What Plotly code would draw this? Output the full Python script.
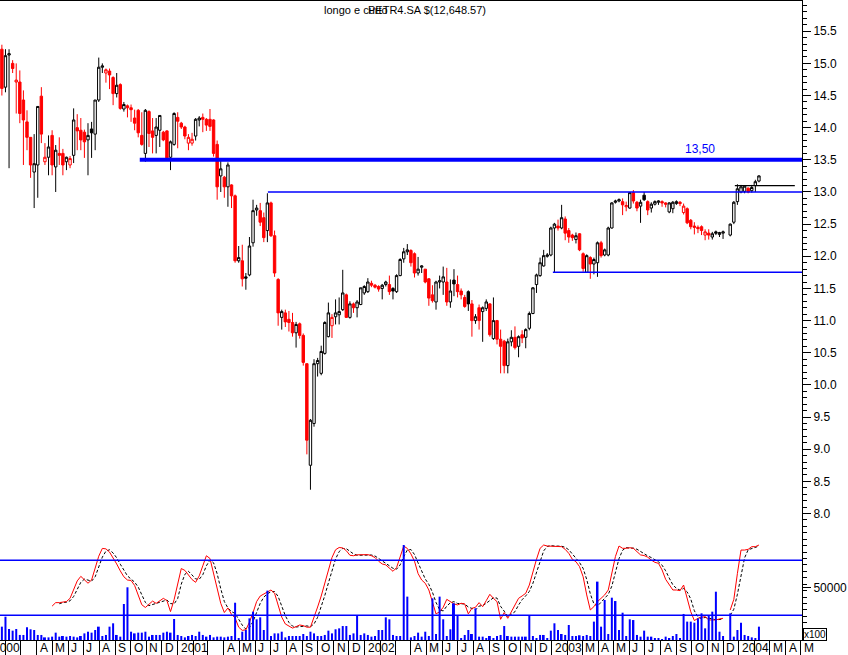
import plotly.graph_objects as go
import pandas as pd

# ---------------- data (weekly, Monday dates; slot 202 = no trading data) ----------------
dates = pd.date_range("2000-01-24", periods=212, freq="7D")

opens = [
    15.22, 14.63, 15.13, 15.00, 14.71, 14.71, 14.43, 14.09, 13.85, 13.31,
    13.42, 14.49, 13.47, 13.54, 13.88, 13.39, 13.60, 13.60, 13.47, 13.42,
    13.57, 14.00, 13.96, 13.93, 13.81, 13.98, 13.90, 14.43, 14.94, 14.85,
    14.88, 14.78, 14.53, 14.67, 14.29, 14.34, 14.31, 14.15, 14.27, 13.88,
    13.60, 14.25, 13.95, 13.88, 13.96, 13.93, 13.95, 13.54, 13.74, 14.16,
    14.07, 14.01, 13.76, 13.76, 13.87, 14.12, 14.16, 14.13, 14.13, 14.12,
    13.74, 13.25, 13.23, 13.08, 13.11, 12.94,
    11.93, 11.93, 11.68, 11.71, 12.21, 12.72, 12.71, 12.60, 12.40, 12.83,
    12.32, 11.64, 11.05, 11.12, 11.02, 10.97, 10.81, 10.95, 10.77, 10.33,
    8.75, 9.40, 10.33, 10.18, 10.49, 10.75, 10.92, 11.06, 11.09, 11.17,
    11.40, 11.05, 11.26, 11.20, 11.25, 11.43, 11.45, 11.58, 11.55, 11.53,
    11.50, 11.56, 11.56, 11.50, 11.45, 11.70, 11.96, 12.07, 12.09, 12.04,
    11.74, 11.83, 11.80, 11.65, 11.40, 11.29, 11.60, 11.60, 11.60, 11.29,
    11.63, 11.56, 11.46, 11.36, 11.45, 11.26, 11.00, 11.20, 11.14, 11.19,
    11.26, 10.72, 11.00, 10.71, 10.68, 10.30, 10.67, 10.74, 10.60, 10.78,
    10.74, 10.88, 11.11, 11.56, 11.70, 11.85, 12.00, 12.02, 12.44, 12.47,
    12.44, 12.58, 12.40, 12.33, 12.26, 12.35, 12.04, 11.75, 11.98, 11.88,
    11.90, 12.21, 12.02, 12.02, 12.44, 12.84, 12.86, 12.85, 12.77, 12.75,
    12.99, 12.84, 12.78, 12.95, 12.85, 12.75, 12.81, 12.84, 12.85, 12.83,
    12.69, 12.74, 12.82, 12.84, 12.68, 12.74, 12.56, 12.47, 12.45, 12.46,
    12.33, 12.36, 12.30, 12.38, 12.34, 12.36,
    None,
    12.33, 12.53, 12.85, 13.00, 13.01, 13.06, 13.02, 13.10, 13.17,
]
highs = [
    15.29, 15.22, 15.22, 15.05, 15.00, 14.89, 14.58, 14.27, 13.85, 13.90,
    14.33, 14.63, 13.76, 13.88, 13.96, 13.73, 13.85, 13.67, 13.55, 13.56,
    14.30, 14.21, 14.15, 13.97, 14.07, 14.09, 14.43, 15.09, 15.00, 14.92,
    14.92, 14.80, 14.85, 14.69, 14.40, 14.36, 14.36, 14.28, 14.29, 14.24,
    14.29, 14.27, 14.15, 14.15, 14.19, 13.95, 13.96, 13.80, 14.24, 14.24,
    14.09, 14.03, 13.90, 13.92, 14.15, 14.18, 14.22, 14.15, 14.29, 14.13,
    13.80, 13.50, 13.25, 13.46, 13.12, 12.96,
    12.16, 12.18, 11.74, 12.30, 12.88, 12.80, 12.83, 12.68, 12.98, 12.85,
    12.40, 11.66, 11.17, 11.17, 11.15, 11.12, 10.98, 10.97, 10.80, 10.33,
    9.47, 10.40, 10.42, 10.61, 10.99, 11.28, 11.10, 11.33, 11.36, 11.79,
    11.42, 11.30, 11.28, 11.32, 11.51, 11.55, 11.66, 11.62, 11.57, 11.55,
    11.57, 11.62, 11.70, 11.52, 11.72, 11.97, 12.13, 12.19, 12.11, 12.06,
    11.99, 11.86, 11.80, 11.66, 11.55, 11.62, 11.70, 11.84, 11.82, 11.64,
    11.80, 11.70, 11.50, 11.40, 11.47, 11.32, 11.10, 11.25, 11.22, 11.33,
    11.27, 11.36, 11.01, 10.86, 10.70, 10.72, 10.85, 10.91, 10.77, 10.85,
    10.88, 11.14, 11.52, 11.73, 11.98, 12.10, 12.05, 12.46, 12.52, 12.57,
    12.80, 12.62, 12.44, 12.35, 12.37, 12.36, 12.06, 12.03, 12.00, 11.98,
    12.23, 12.24, 12.12, 12.46, 12.84, 12.88, 12.90, 12.90, 12.85, 13.00,
    13.03, 12.86, 12.88, 13.00, 12.87, 12.84, 12.87, 12.87, 12.87, 12.84,
    12.84, 12.86, 12.87, 12.86, 12.82, 12.76, 12.58, 12.53, 12.48, 12.48,
    12.42, 12.42, 12.38, 12.40, 12.38, 12.40,
    None,
    12.51, 12.86, 13.12, 13.11, 13.10, 13.07, 13.11, 13.19, 13.26,
]
lows = [
    14.50, 14.55, 13.37, 14.85, 14.22, 14.07, 13.42, 13.65, 13.22, 12.75,
    12.91, 13.76, 13.42, 13.26, 13.26, 13.00, 13.42, 13.26, 13.34, 13.37,
    13.45, 13.65, 13.65, 13.53, 13.26, 13.53, 13.65, 14.40, 14.85, 14.70,
    14.60, 14.35, 14.47, 14.28, 14.25, 14.16, 14.09, 13.96, 13.85, 13.72,
    13.47, 13.70, 13.60, 13.60, 13.70, 13.79, 13.53, 13.34, 13.72, 13.68,
    13.98, 13.82, 13.65, 13.72, 13.80, 14.02, 13.93, 13.95, 13.95, 13.55,
    12.88, 13.00, 12.91, 12.77, 12.75, 11.90,
    11.90, 11.53, 11.48, 11.69, 12.15, 12.63, 12.47, 12.22, 12.22, 12.30,
    11.68, 10.92, 10.86, 10.90, 10.83, 10.75, 10.58, 10.72, 10.30, 8.92,
    8.37, 9.35, 10.13, 10.15, 10.47, 10.74, 10.73, 10.94, 10.94, 11.15,
    11.04, 11.03, 11.12, 11.05, 11.24, 11.40, 11.43, 11.52, 11.50, 11.45,
    11.33, 11.53, 11.40, 11.33, 11.43, 11.69, 11.90, 12.02, 11.84, 11.67,
    11.70, 11.74, 11.58, 11.23, 11.28, 11.17, 11.50, 11.40, 11.23, 11.20,
    11.38, 11.36, 11.33, 11.20, 11.15, 10.75, 10.95, 10.86, 10.67, 11.15,
    10.75, 10.70, 10.63, 10.18, 10.18, 10.18, 10.60, 10.55, 10.43, 10.65,
    10.57, 10.85, 11.10, 11.43, 11.68, 11.84, 11.98, 12.00, 11.75, 12.40,
    12.42, 12.25, 12.21, 12.24, 12.20, 12.08, 11.76, 11.74, 11.65, 11.72,
    11.68, 11.98, 12.00, 12.00, 12.43, 12.82, 12.84, 12.64, 12.70, 12.74,
    12.82, 12.70, 12.52, 12.86, 12.64, 12.68, 12.79, 12.80, 12.77, 12.76,
    12.67, 12.67, 12.80, 12.78, 12.65, 12.50, 12.42, 12.34, 12.36, 12.33,
    12.25, 12.26, 12.26, 12.33, 12.30, 12.27,
    None,
    12.31, 12.50, 12.80, 12.98, 12.98, 12.98, 12.99, 13.00, 13.15,
]
closes = [
    14.61, 15.12, 15.15, 14.92, 14.74, 14.22, 14.12, 13.85, 13.42, 13.44,
    14.33, 13.90, 13.54, 13.70, 13.42, 13.65, 13.57, 13.42, 13.54, 13.52,
    14.12, 13.95, 13.81, 13.78, 13.88, 13.92, 14.43, 14.94, 14.96, 14.90,
    14.82, 14.53, 14.66, 14.30, 14.36, 14.31, 14.28, 14.07, 13.92, 13.74,
    14.27, 13.91, 13.85, 14.01, 14.19, 13.81, 13.53, 13.78, 14.22, 14.10,
    14.01, 13.87, 13.85, 13.82, 14.13, 14.15, 14.13, 14.04, 14.02, 13.60,
    13.08, 13.36, 13.08, 13.42, 12.94, 11.93,
    11.98, 11.65, 11.66, 12.16, 12.71, 12.75, 12.53, 12.29, 12.83, 12.32,
    11.74, 11.12, 11.14, 10.98, 10.97, 10.81, 10.94, 10.77, 10.35, 9.14,
    9.45, 10.33, 10.38, 10.52, 10.97, 11.12, 11.05, 11.12, 11.14, 11.43,
    11.05, 11.26, 11.20, 11.29, 11.51, 11.53, 11.60, 11.55, 11.52, 11.49,
    11.55, 11.60, 11.45, 11.46, 11.70, 11.95, 12.07, 12.10, 11.90, 11.74,
    11.80, 11.85, 11.60, 11.35, 11.31, 11.60, 11.62, 11.68, 11.29, 11.46,
    11.57, 11.45, 11.40, 11.22, 11.26, 11.00, 11.06, 11.00, 11.20, 11.29,
    10.78, 11.00, 10.71, 10.60, 10.30, 10.67, 10.74, 10.58, 10.75, 10.73,
    10.86, 11.11, 11.51, 11.71, 11.90, 12.01, 12.02, 12.44, 12.50, 12.44,
    12.60, 12.36, 12.30, 12.29, 12.32, 12.10, 11.81, 12.01, 11.88, 11.95,
    12.21, 12.01, 12.10, 12.44, 12.83, 12.86, 12.88, 12.80, 12.79, 12.99,
    12.86, 12.75, 12.84, 12.88, 12.72, 12.81, 12.85, 12.86, 12.83, 12.81,
    12.83, 12.84, 12.85, 12.82, 12.78, 12.52, 12.46, 12.45, 12.43, 12.40,
    12.38, 12.33, 12.35, 12.36, 12.37, 12.38,
    None,
    12.50, 12.84, 13.05, 13.08, 13.09, 13.00, 13.07, 13.16, 13.25,
]

# volume, in hundreds of shares (axis shows "x100")
volume = [
    12700, 22200, 10500, 8900, 10500, 4800, 4800, 12100, 10200, 9500,
    4800, 4800, 2500, 2500, 3200, 7000, 3200, 3800, 3200, 3800,
    3200, 2500, 3800, 6300, 7900, 7000, 9500, 12700, 3800, 4800,
    12700, 15900, 4800, 3200, 34300, 50200, 7900, 6300, 7000, 7000,
    7900, 3200, 4800, 4800, 4800, 7000, 7900, 7000, 20000, 4800,
    3800, 2500, 3800, 4800, 3800, 7900, 4800, 3200, 4800, 2500,
    3200, 3200, 2500, 3200, 3800, 35500, 1600, 7900, 9500, 20600,
    27000, 19700, 21600, 9500, 47000, 3800, 6300, 6300, 7900, 2500,
    3800, 3800, 3800, 3800, 5700, 3800, 7900, 6300, 3800, 3800,
    4800, 8900, 6300, 10200, 11100, 13300, 13300, 4800, 6300, 23200,
    4800, 6300, 4800, 3200, 3800, 9500, 9500, 21600, 19700, 4800,
    3800, 3800, 90500, 41300, 2500, 3800, 7000,
    3200, 7900, 3800, 39700, 5700, 41300, 19700, 3800, 10200, 34900,
    23800, 1600, 4800, 9500, 5700, 30200, 3200, 3200, 1600, 3800,
    1600, 3800, 4800, 13300, 3800, 3200, 3200, 3200, 3200, 3200,
    23800, 3800, 1600, 4800, 4800, 1600, 8900, 15900, 9500, 5700,
    4800, 14300, 3800, 3800, 4500, 3800, 4800, 3800, 17500, 55600,
    12700, 38100, 5700, 40300, 37100, 9500, 26000, 3800, 19700, 19000,
    4800, 3200, 8900, 3200, 3200, 1600, 1600, 600, 3200, 1600,
    3800, 5700, 1600, 24800, 17500, 17500, 16500, 20600, 25400, 11100,
    22900, 27000, 46000, 7900, 3800,
    None,
    25400, 3200, 9500, 16500, 4800, 3800, 2500, 1600, 12700,
]

# stochastic oscillator %K (red) and %D (black dashed)
stoch_k = [None] * 14 + [
    30, 33.8, 33.8, 34, 35, 38.5, 48, 57.5, 62.5, 58.5,
    55, 58.5, 73, 84.5, 93, 92.5, 89, 83, 76, 68.5,
    62, 58.5, 58, 52.5, 42, 31.5, 28.5, 31.5, 35.5, 33,
    35.5, 38.5, 36, 24, 37, 54, 71, 69, 64, 59,
    56, 63, 74, 85, 82, 65, 49, 33, 23, 28,
    21, 17, 7, 3.5, 4.2, 12.5, 23, 35, 41, 43.5,
    46, 47.6, 44, 30, 18, 10.5, 8, 6, 7.6, 9.4,
    8.7, 7, 7, 17.5, 29, 41, 54.5, 70, 83, 91.5,
    94, 93.5, 90.5, 85.5, 85, 86, 86, 86.3, 86.2, 85,
    83, 79, 76, 75, 71, 68, 72, 85, 95.5, 93,
    87, 79, 65.5,
    58.5, 54.9, 47.6, 33.1, 21.5, 23.8, 28.7, 37.4, 34.9, 32.4,
    31.3, 33.1, 32.4, 21.5, 27.6, 28.7, 33.8, 29.4, 36, 42.9,
    38.5, 34.9, 15.6, 22.9, 16.7, 23.8, 31.3, 38.5, 41.1, 44,
    53, 67.6, 81.1, 93.1, 96.7, 95.6, 95.6, 95.6, 95.6, 94.9,
    92, 87.6, 81.1, 78.5, 73.1, 62.1, 42.2, 25.8, 29.4, 34.9,
    38.5, 42.2, 47.6, 65.7, 84.1, 95.6, 93.1, 93.1, 93.8, 93.1,
    89.4, 85.9, 85.2, 83.4, 80.3, 77.8, 76.7, 69.5, 59.2, 53,
    47.6, 47.6, 46.9, 53, 36.7, 23.8, 14.2, 16.7, 17.8, 18.5,
    14.9, 14.9, 14.9, 16, 16.7,
    None,
    25.8, 37.4, 65.7, 91.2, 91.2, 92, 94.9, 94.9, 96.7,
]
stoch_d = [None] * 16 + [
    32.6, 33.9, 34.3, 35.8, 40.5, 48, 56, 59.5, 58.7, 57.3,
    62, 72, 83.5, 90, 91.5, 88, 82.7, 75.8, 68.8, 63,
    59.5, 56.2, 50.8, 42, 34, 30.5, 31.8, 33.3, 34.7, 35.7,
    36.7, 32.8, 32.3, 38.3, 54, 64.7, 68, 64, 59.7, 59.3,
    64.3, 74, 80.3, 77.3, 65.3, 49, 35, 28, 24, 22,
    15, 9.2, 4.9, 6.7, 13.2, 23.5, 33, 39.8, 43.5, 45.7,
    45.9, 40.5, 30.7, 19.5, 12.2, 8.2, 7.2, 7.7, 8.6, 8.4,
    7.6, 10.5, 17.8, 29.2, 41.5, 55.2, 69.2, 81.5, 89.5, 93,
    92.7, 89.8, 87, 85.5, 85.7, 86.1, 86.2, 85.8, 84.7, 82.3,
    79.3, 76.7, 74, 71.3, 70.3, 75, 84, 91.2, 91.8, 86.3,
    77.2, 67.7, 59.6, 53.7, 45.2, 34, 26.1, 24.7, 30, 33.7,
    34.9, 32.9, 32.3, 32.3, 29, 27.2, 25.9, 30, 30.6, 33.1,
    36.1, 39.1, 38.8, 29.7, 24.5, 18.4, 21.1, 23.9, 31.2, 37,
    41.2, 46, 54.9, 67.2, 80.6, 90.3, 95.1, 96, 95.6, 95.6,
    95.4, 94.2, 91.5, 86.9, 82.4, 77.6, 71.2, 59.1, 43.4, 32.5,
    30, 34.3, 38.5, 42.8, 51.8, 65.8, 81.8, 91, 93.9, 93.3,
    93.3, 92.1, 89.5, 86.8, 84.8, 83, 80.5, 78.3, 74.7, 68.5,
    60.6, 53.3, 49.4, 47.4, 49.2, 45.5, 37.8, 24.9, 18.2, 16.2,
    17.7, 17.1, 16.1, 14.9, 15.3, 15.9,
    None,
    20, 26.6, 43, 64.8, 82.7, 91.5, 92.7, 93.9, 95.5,
]

# horizontal study lines: level, start date, end date, colour, width
study_levels = [13.50, 13.00, 11.75, 13.10]
study_starts = ["2000-10-19", "2001-06-26", "2003-01-03", "2003-12-24"]
study_ends = ["2004-05-03", "2004-05-03", "2004-05-03", "2004-04-19"]
study_colors = ["#0000FF", "#0000FF", "#0000FF", "#000000"]
study_widths = [4, 1.5, 1.5, 1.2]
stoch_levels = [80, 20]

price_ticks = [8.0, 8.5, 9.0, 9.5, 10.0, 10.5, 11.0, 11.5, 12.0, 12.5,
               13.0, 13.5, 14.0, 14.5, 15.0, 15.5]
month_starts = pd.date_range("2000-01-01", "2004-05-01", freq="MS")
month_letters = ["", "", "M", "A", "M", "J", "J", "A", "S", "O", "N", "D"]
no_march_years = [2000, 2001, 2002]

n = len(dates)
assert all(len(a) == n for a in (opens, highs, lows, closes, volume, stoch_k, stoch_d)), \
    [len(a) for a in (opens, highs, lows, closes, volume, stoch_k, stoch_d)]

# ---------------- colour classification (close vs previous close) ----------------
black_idx, red_idx = [], []
prev = None
for i in range(n):
    c = closes[i]
    if c is None:
        continue
    if prev is None or c < prev:
        red_idx.append(i)
    else:
        black_idx.append(i)
    prev = c


def candle_trace(idx, color):
    return go.Candlestick(
        x=[dates[i] for i in idx],
        open=[opens[i] for i in idx],
        high=[highs[i] for i in idx],
        low=[lows[i] for i in idx],
        close=[closes[i] for i in idx],
        increasing=dict(line=dict(color=color, width=1), fillcolor="white"),
        decreasing=dict(line=dict(color=color, width=1), fillcolor=color),
        whiskerwidth=0,
        yaxis="y",
    )


fig = go.Figure()
fig.add_trace(go.Bar(x=dates, y=volume, yaxis="y3", marker=dict(color="#0000FF", line=dict(width=0)),
                     width=3.9 * 86400000))
fig.add_trace(go.Scatter(x=dates, y=stoch_d, yaxis="y2", mode="lines",
                         line=dict(color="black", width=1, dash="3px,2px")))
fig.add_trace(go.Scatter(x=dates, y=stoch_k, yaxis="y2", mode="lines",
                         line=dict(color="#FF0000", width=1)))
fig.add_trace(candle_trace(black_idx, "#000000"))
fig.add_trace(candle_trace(red_idx, "#FF0000"))

x0 = pd.Timestamp("2000-01-20 08:00")
x1 = pd.Timestamp("2004-05-03")

shapes = []
for lvl, s, e, col, w in zip(study_levels, study_starts, study_ends, study_colors, study_widths):
    shapes.append(dict(type="line", xref="x", yref="y", x0=s, x1=e, y0=lvl, y1=lvl,
                       line=dict(color=col, width=w), layer="above"))
for lvl in stoch_levels:
    shapes.append(dict(type="line", xref="paper", yref="y2", x0=0, x1=1, y0=lvl, y1=lvl,
                       line=dict(color="#0000FF", width=1.5), layer="above"))

annotations = []
span = (x1 - x0).total_seconds()
for ms in month_starts:
    m = ms.month
    if m == 1:
        txt = str(ms.year)
    elif m == 3 and ms.year in no_march_years:
        txt = ""
    else:
        txt = month_letters[m - 1]
    if not txt:
        continue
    frac = (ms - x0).total_seconds() / span
    annotations.append(dict(x=frac, y=0, xref="paper", yref="paper", xanchor="left", yanchor="top",
                            xshift=1, yshift=1, text=txt, showarrow=False,
                            font=dict(size=12, color="black")))

annotations.append(dict(x="2003-10-17", y=13.5, xref="x", yref="y", yshift=11, text="13,50",
                        showarrow=False, font=dict(size=12, color="#0000FF")))
annotations.append(dict(x=1, y=0.009, xref="paper", yref="paper", xanchor="left", yanchor="middle",
                        xshift=1, text="x100", showarrow=False, font=dict(size=10, color="black"),
                        bordercolor="black", borderwidth=1, borderpad=0, bgcolor="white"))
annotations.append(dict(x=321.7 / 802, y=0.986, xref="paper", yref="paper", xanchor="left",
                        yanchor="middle", text="longo e curto", showarrow=False,
                        font=dict(size=11, color="black")))
annotations.append(dict(x=366 / 802, y=0.986, xref="paper", yref="paper", xanchor="left",
                        yanchor="middle", text="PETR4.SA $(12,648.57)", showarrow=False,
                        font=dict(size=11, color="black")))

fig.update_layout(
    width=848, height=655,
    margin=dict(l=0, r=46, t=1, b=15),
    paper_bgcolor="white", plot_bgcolor="white",
    showlegend=False, boxgap=0.04,
    font=dict(family="Liberation Sans, Arial, sans-serif", size=12, color="black"),
    xaxis=dict(type="date", range=[x0, x1], rangeslider=dict(visible=False),
               showgrid=False, zeroline=False, showline=True, linecolor="black", linewidth=1,
               mirror=True, ticks="outside", ticklen=15, tickcolor="black", tickwidth=1,
               tickmode="array", tickvals=list(month_starts), showticklabels=False),
    yaxis=dict(range=[6.033, 15.970], side="right", showgrid=False, zeroline=False,
               showline=True, linecolor="black", linewidth=1,
               ticks="outside", ticklen=8, tickcolor="black",
               tickmode="array", tickvals=price_ticks,
               ticktext=[f"{v:.1f}" for v in price_ticks],
               minor=dict(tickmode="linear", tick0=0, dtick=0.1, ticks="outside", ticklen=4,
                          tickcolor="black", showgrid=False)),
    yaxis2=dict(overlaying="y", range=[-6.99, 690.6], visible=False),
    yaxis3=dict(overlaying="y", side="right", range=[0, 608571], showgrid=False,
                zeroline=False, showline=False, ticks="outside", ticklen=8, tickcolor="black",
                tickmode="array", tickvals=[50000], ticktext=["50000"]),
    shapes=shapes,
    annotations=annotations,
)

# the page's default 8px body margin would shift the 848x655 figure; remove it
fig.write_html("out.html", config={"displayModeBar": False},
               post_script="document.body.style.margin='0';")
